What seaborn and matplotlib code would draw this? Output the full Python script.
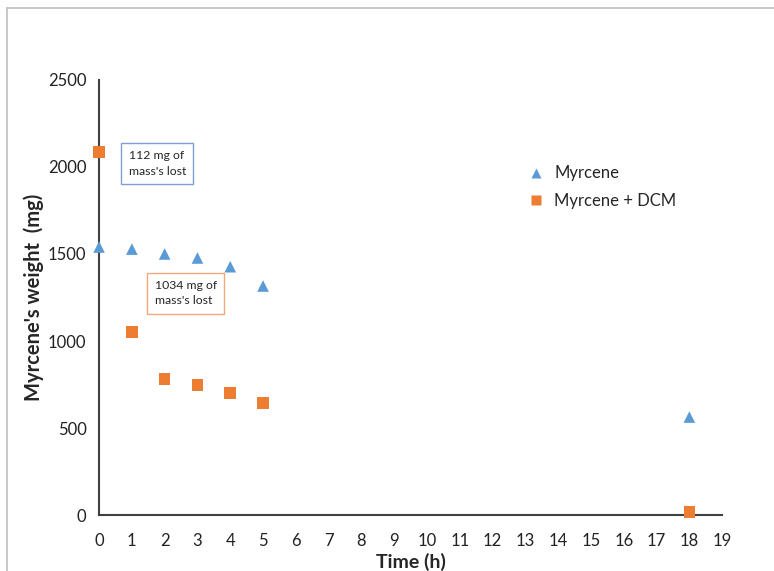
import pandas as pd
import matplotlib.pyplot as plt
import seaborn as sns
from matplotlib.lines import Line2D

# Data
hours = [0, 1, 2, 3, 4, 5, 18]
myrcene = [1540, 1528, 1500, 1477, 1427, 1316, 563]
myrcene_dcm = [2086, 1052, 782, 747, 701, 644, 17]
series_names = ['Myrcene', 'Myrcene + DCM']
notes = ["112 mg of\nmass's lost", "1034 mg of\nmass's lost"]

df = pd.DataFrame({
    'Time (h)': hours * 2,
    'weight': myrcene + myrcene_dcm,
    'series': [series_names[0]] * len(hours) + [series_names[1]] * len(hours),
})

sns.set_style('white')
plt.rcParams['font.family'] = ['Lato', 'DejaVu Sans']

fig = plt.figure(figsize=(7.74, 5.71), dpi=100)
ax = fig.add_axes([0.128, 0.098, 0.805, 0.762])

# grey outer frame, only top and left edges show in the source
fx, fy = 7 / 774, 1 - 8 / 571
fig.lines.append(Line2D([fx, 1.0], [fy, fy], transform=fig.transFigure,
                        color='#bfbfbf', linewidth=1.2))
fig.lines.append(Line2D([fx, fx], [0, fy], transform=fig.transFigure,
                        color='#bfbfbf', linewidth=1.2))

sns.scatterplot(data=df, x='Time (h)', y='weight', hue='series', style='series',
                markers={series_names[0]: '^', series_names[1]: 's'},
                palette={series_names[0]: '#5b9bd5', series_names[1]: '#ed7d31'},
                s=70, edgecolor='none', ax=ax, clip_on=False, zorder=3)

ax.set_xlim(0, 19)
ax.set_ylim(0, 2500)
ax.set_xticks(range(0, 20))
ax.set_yticks(range(0, 2501, 500))
ax.tick_params(axis='both', length=0, labelsize=12, colors='#222222')
ax.tick_params(axis='x', pad=13)
ax.tick_params(axis='y', pad=9)
ax.set_xlabel('Time (h)', fontsize=14, fontweight='bold', labelpad=3)
ax.set_ylabel("Myrcene's weight  (mg)", fontsize=14.5, fontweight='bold', labelpad=3)
for side in ['top', 'right']:
    ax.spines[side].set_visible(False)
for side in ['left', 'bottom']:
    ax.spines[side].set_color('#404040')
    ax.spines[side].set_linewidth(1.5)

leg = ax.legend(loc='upper left', bbox_to_anchor=(0.65, 0.838), frameon=False,
                fontsize=12, handletextpad=0.1, labelspacing=0.7, markerscale=0.9)

ax.text(0.9, 2020, notes[0], fontsize=8.8, va='center', ha='left', linespacing=1.5,
        bbox=dict(boxstyle='square,pad=0.6', facecolor='white', edgecolor='#7f9fd6', linewidth=1))
ax.text(1.7, 1275, notes[1], fontsize=8.8, va='center', ha='left', linespacing=1.5,
        bbox=dict(boxstyle='square,pad=0.6', facecolor='white', edgecolor='#f4a97a', linewidth=1))

fig.savefig('out.png', dpi=100)
